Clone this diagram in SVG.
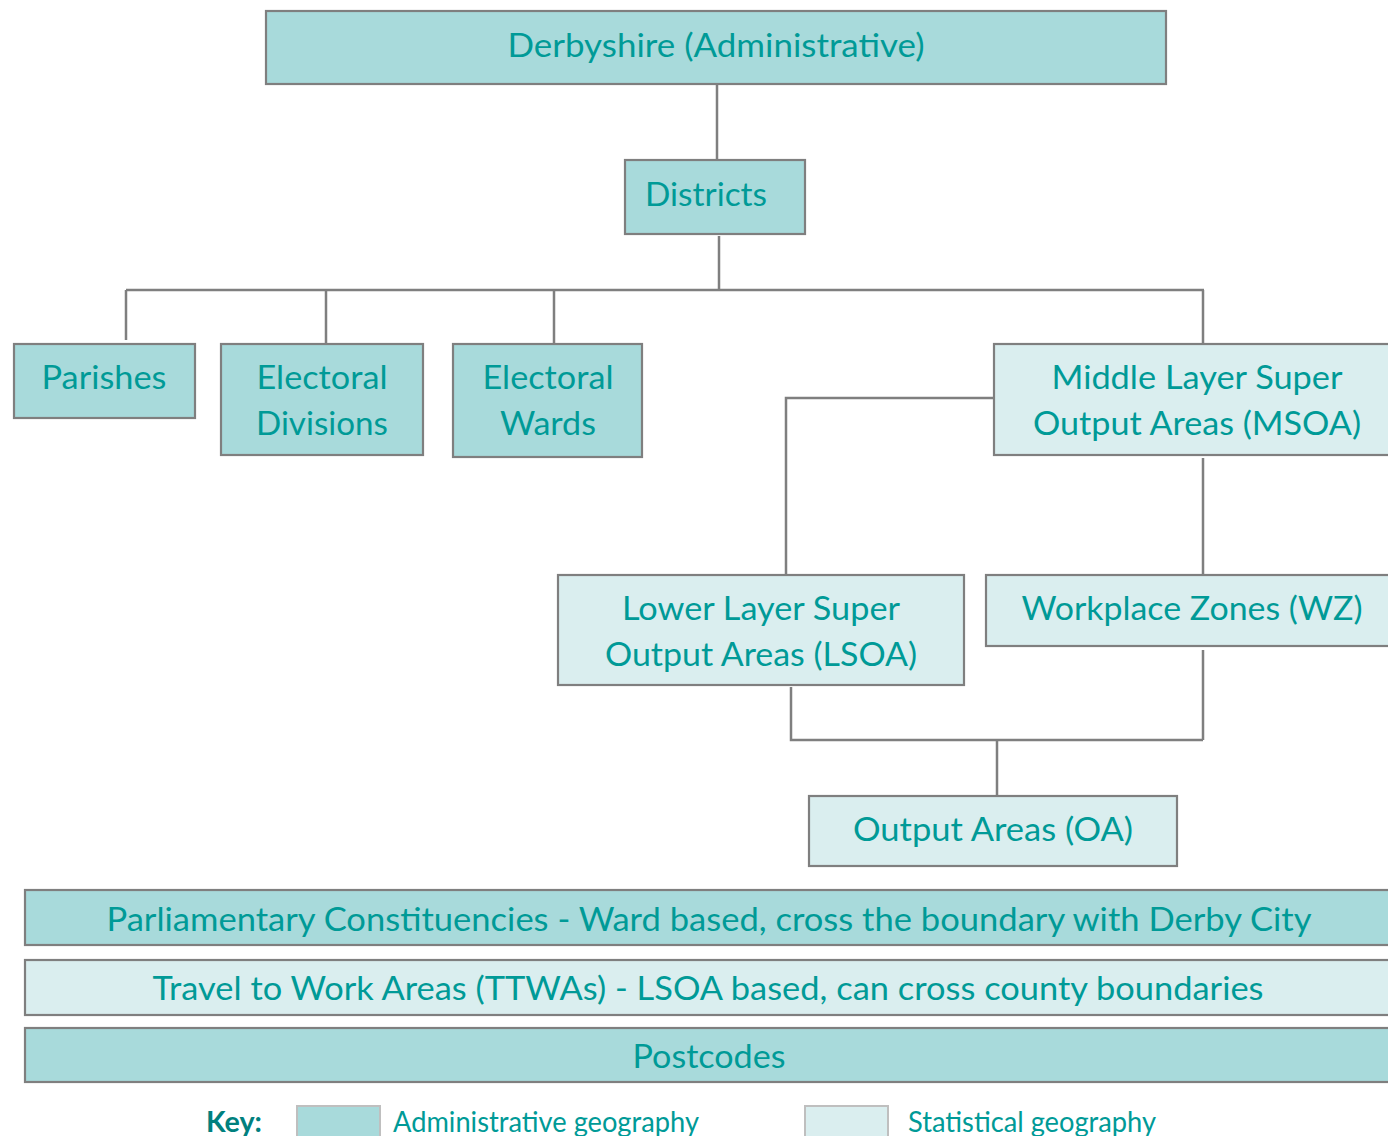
<svg xmlns="http://www.w3.org/2000/svg" width="1388" height="1136" viewBox="0 0 1388 1136">
<style>
.adm{fill:#A8DADB;stroke:#7F7F7F;stroke-width:2.2}
.sta{fill:#DAEEEF;stroke:#7F7F7F;stroke-width:2.2}
.t{font-family:Lato,"Open Sans",sans-serif;font-size:33px;fill:#009A97;text-anchor:middle}
.k{font-family:Lato,"Open Sans",sans-serif;font-size:28px;fill:#009A97}
.kb{font-family:Lato,"Open Sans",sans-serif;font-size:28px;font-weight:bold;fill:#00807E}
.c{fill:none;stroke:#7F7F7F;stroke-width:2.5}
</style>
<rect width="1388" height="1136" fill="#FFFFFF"/>
<g id="connectors">
<path class="c" d="M717 85V160"/>
<path class="c" d="M719 236V290"/>
<path class="c" d="M126 290H1204"/>
<path class="c" d="M126 290V340"/>
<path class="c" d="M326 290V343"/>
<path class="c" d="M554 290V343"/>
<path class="c" d="M1203 290V343"/>
<path class="c" d="M996 398H786V576"/>
<path class="c" d="M1203 458V575"/>
<path class="c" d="M791 687V740H1203"/>
<path class="c" d="M1203 650V740"/>
<path class="c" d="M997 740V795"/>
</g>
<g id="derbyshire">
<rect class="adm" x="266" y="11" width="900" height="73"/>
<text class="t" x="716" y="57" textLength="417" lengthAdjust="spacingAndGlyphs">Derbyshire (Administrative)</text>
</g>
<g id="districts">
<rect class="adm" x="625" y="160" width="180" height="74"/>
<text class="t" x="706" y="206" textLength="122" lengthAdjust="spacingAndGlyphs">Districts</text>
</g>
<g id="parishes">
<rect class="adm" x="14" y="344" width="181" height="74"/>
<text class="t" x="104" y="389" textLength="125" lengthAdjust="spacingAndGlyphs">Parishes</text>
</g>
<g id="electoral-divisions">
<rect class="adm" x="221" y="344" width="202" height="111"/>
<text class="t" x="322" y="389" textLength="131" lengthAdjust="spacingAndGlyphs">Electoral</text>
<text class="t" x="322" y="435" textLength="132" lengthAdjust="spacingAndGlyphs">Divisions</text>
</g>
<g id="electoral-wards">
<rect class="adm" x="453" y="344" width="189" height="113"/>
<text class="t" x="548" y="389" textLength="131" lengthAdjust="spacingAndGlyphs">Electoral</text>
<text class="t" x="548" y="435" textLength="96" lengthAdjust="spacingAndGlyphs">Wards</text>
</g>
<g id="msoa">
<rect class="sta" x="994" y="344" width="400" height="111"/>
<text class="t" x="1197" y="389" textLength="291" lengthAdjust="spacingAndGlyphs">Middle Layer Super</text>
<text class="t" x="1197" y="435" textLength="328" lengthAdjust="spacingAndGlyphs">Output Areas (MSOA)</text>
</g>
<g id="lsoa">
<rect class="sta" x="558" y="575" width="406" height="110"/>
<text class="t" x="761" y="620" textLength="278" lengthAdjust="spacingAndGlyphs">Lower Layer Super</text>
<text class="t" x="761" y="666" textLength="312" lengthAdjust="spacingAndGlyphs">Output Areas (LSOA)</text>
</g>
<g id="wz">
<rect class="sta" x="986" y="575" width="408" height="71"/>
<text class="t" x="1192" y="620" textLength="341" lengthAdjust="spacingAndGlyphs">Workplace Zones (WZ)</text>
</g>
<g id="oa">
<rect class="sta" x="809" y="796" width="368" height="70"/>
<text class="t" x="993" y="841" textLength="280" lengthAdjust="spacingAndGlyphs">Output Areas (OA)</text>
</g>
<g id="parliamentary">
<rect class="adm" x="25" y="890" width="1370" height="55"/>
<text class="t" x="709" y="931" textLength="1205" lengthAdjust="spacingAndGlyphs">Parliamentary Constituencies - Ward based, cross the boundary with Derby City</text>
</g>
<g id="ttwa">
<rect class="sta" x="25" y="960" width="1370" height="55"/>
<text class="t" x="708" y="1000" textLength="1111" lengthAdjust="spacingAndGlyphs">Travel to Work Areas (TTWAs) - LSOA based, can cross county boundaries</text>
</g>
<g id="postcodes">
<rect class="adm" x="25" y="1028" width="1370" height="54"/>
<text class="t" x="709" y="1068" textLength="153" lengthAdjust="spacingAndGlyphs">Postcodes</text>
</g>
<g id="key">
<text class="kb" x="206" y="1132" textLength="56" lengthAdjust="spacingAndGlyphs">Key:</text>
<rect x="297" y="1106" width="83" height="40" fill="#A8DADB" stroke="#BFBFBF" stroke-width="2"/>
<text class="k" x="393" y="1132" textLength="306" lengthAdjust="spacingAndGlyphs">Administrative geography</text>
<rect x="805" y="1106" width="83" height="40" fill="#DAEEEF" stroke="#BFBFBF" stroke-width="2"/>
<text class="k" x="908" y="1132" textLength="248" lengthAdjust="spacingAndGlyphs">Statistical geography</text>
</g>
</svg>
